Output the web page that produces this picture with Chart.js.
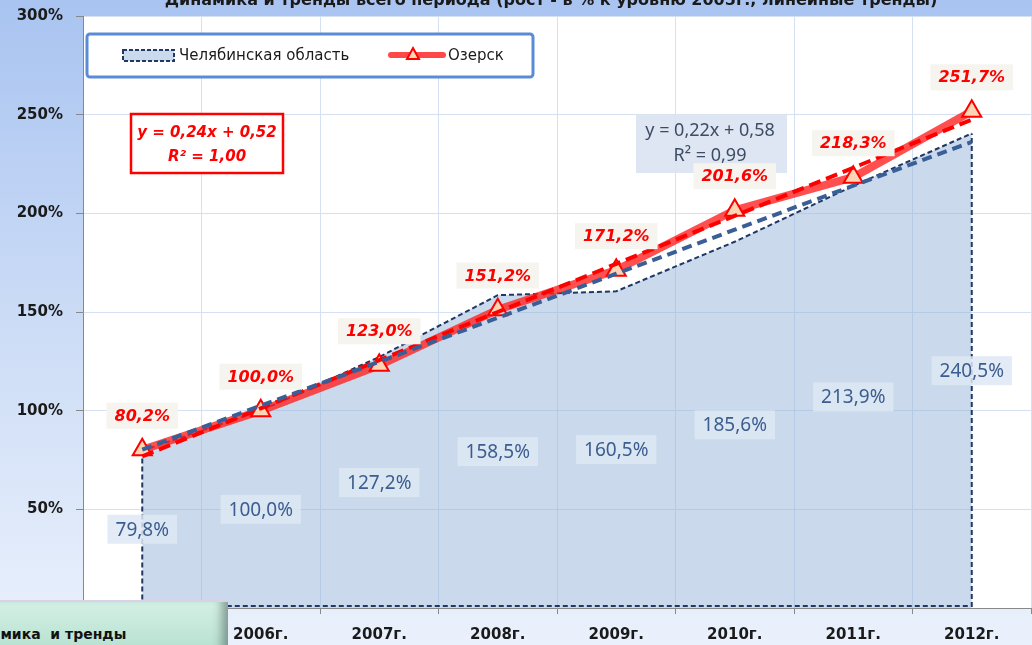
<!DOCTYPE html>
<html>
<head>
<meta charset='utf-8' />
<title>Динамика и тренды</title>
<script src="https://cdn.jsdelivr.net/npm/chart.js"></script>
<style>
body { margin:0; padding:0; overflow:hidden; }
#wrap { position: relative; width: 1032px; height: 645px; }
#chart { display: block; }
#btn {
  position: absolute;
  left: 0; top: 600px;
  width: 228px; height: 50px;
  overflow: hidden;
  background: linear-gradient(#d3f0e4, #b6e0cf);
  border-top: 2px solid #d9d0ea;
  box-shadow: inset -12px 0 10px -6px rgba(70,90,85,0.55);
  font: bold 14px 'DejaVu Sans';
  color: #111;
  white-space: nowrap;
}
#btn .txt { position: absolute; top: 24px; left: 0; }
</style>
</head>
<body>
<div id="wrap">
  <canvas id="chart" width="1032" height="645"></canvas>
  <div id="btn"><span class="txt"><span id="cut">Дина</span>мика&nbsp; и тренды</span></div>
</div>

<script>

/*************************************************/
/* данные                                        */
/*************************************************/

const years = ['2005г.', '2006г.', '2007г.', '2008г.', '2009г.', '2010г.', '2011г.', '2012г.'];

// Челябинская область, % к 2005г.
const chelyab = [79.8, 100.0, 127.2, 158.5, 160.5, 185.6, 213.9, 240.5];
// Озерск, % к 2005г.
const ozersk = [80.2, 100.0, 123.0, 151.2, 171.2, 201.6, 218.3, 251.7];

// линейные тренды (как на картинке)
const chelyabTrend = [80.3, 102.5, 124.8, 147.1, 169.4, 191.7, 214.0, 236.2];
const ozerskTrend = [76.8, 101.2, 125.6, 150.0, 174.4, 198.7, 223.1, 247.5];

const eqOzersk = ['y = 0,24x + 0,52', 'R² = 1,00'];
const eqChelyab = ['y = 0,22x + 0,58', 'R² = 0,99'];

const titleText = 'Динамика и тренды всего периода (рост - в % к уровню 2005г., линейные тренды)';
const seriesNames = ['Челябинская область', 'Озерск'];

const fmt = v => v.toFixed(1).replace('.', ',') + '%';

// кнопка внизу: обрезаем начало слова
document.querySelector('#btn .txt').style.left = (-document.getElementById('cut').offsetWidth) + 'px';

/*************************************************/
/* плагины                                       */
/*************************************************/

const bgPlugin = {
  id: 'bg',
  beforeDraw(chart) {
    const ctx = chart.ctx;
    const a = chart.chartArea;
    const g = ctx.createLinearGradient(0, 0, 0, chart.height);
    g.addColorStop(0, '#a9c4f1');
    g.addColorStop(0.5, '#ccdcf6');
    g.addColorStop(1, '#eaf1fc');
    ctx.save();
    ctx.fillStyle = g;
    ctx.fillRect(0, 0, chart.width, chart.height);
    ctx.fillStyle = '#ffffff';
    ctx.fillRect(a.left, a.top, a.right - a.left, a.bottom - a.top);
    // заголовок (обрезан сверху)
    ctx.fillStyle = '#1a1a1a';
    ctx.font = 'bold 16px "DejaVu Sans"';
    ctx.textAlign = 'center';
    ctx.textBaseline = 'alphabetic';
    ctx.fillText(titleText, 551, 5);
    ctx.restore();
  }
};

// пунктирные края области
const areaEdgePlugin = {
  id: 'areaEdge',
  afterDatasetDraw(chart, args) {
    if (args.index !== 0) return;
    const pts = args.meta.data;
    const bottom = chart.scales.y.getPixelForValue(0) - 2;
    const first = pts[0], last = pts[pts.length - 1];
    const ctx = chart.ctx;
    ctx.save();
    ctx.strokeStyle = '#1f3864';
    ctx.lineWidth = 2;
    ctx.setLineDash([5, 3]);
    ctx.beginPath();
    ctx.moveTo(first.x, first.y);
    ctx.lineTo(first.x, bottom);
    ctx.lineTo(last.x, bottom);
    ctx.lineTo(last.x, last.y);
    ctx.stroke();
    ctx.restore();
  }
};

const labelBox = (ctx, text, x, y, font, color, bg, padX, h) => {
  ctx.font = font;
  const w = ctx.measureText(text).width + padX * 2;
  ctx.fillStyle = bg;
  ctx.fillRect(x - w / 2, y - h / 2, w, h);
  ctx.fillStyle = color;
  ctx.textAlign = 'center';
  ctx.textBaseline = 'middle';
  ctx.fillText(text, x, y + 1);
};

const annotPlugin = {
  id: 'annot',
  afterDatasetsDraw(chart) {
    const ctx = chart.ctx;
    const ys = chart.scales.y;
    ctx.save();

    // уравнения трендов
    ctx.fillStyle = '#ffffff';
    ctx.fillRect(131, 114, 152, 59);
    ctx.strokeStyle = '#ff0000';
    ctx.lineWidth = 2.5;
    ctx.strokeRect(131, 114, 152, 59);
    ctx.fillStyle = '#ff0000';
    ctx.font = 'italic bold 15px "DejaVu Sans"';
    ctx.textAlign = 'center';
    ctx.textBaseline = 'middle';
    ctx.fillText(eqOzersk[0], 207, 133);
    ctx.fillText(eqOzersk[1], 207, 157);

    ctx.fillStyle = 'rgba(218,228,241,0.92)';
    ctx.fillRect(636, 114, 151, 59);
    ctx.fillStyle = '#3e4c63';
    ctx.font = '18px "Noto Sans"';
    ctx.fillText(eqChelyab[0], 710, 131);
    ctx.fillText(eqChelyab[1], 710, 156);

    // подписи Челябинской области (в середине области)
    chart.getDatasetMeta(0).data.forEach((p, i) => {
      const y = ys.getPixelForValue(chelyab[i] / 2);
      labelBox(ctx, fmt(chelyab[i]), p.x, y, '19px "Noto Sans"', '#3b5d8f', 'rgba(222,231,244,0.85)', 8, 29);
    });

    // подписи Озерска
    chart.getDatasetMeta(1).data.forEach((p, i) => {
      labelBox(ctx, fmt(ozersk[i]), p.x, p.y - 34, 'italic bold 16px "DejaVu Sans"', '#ff0000', '#f6f4ee', 8, 26);
    });

    // легенда
    ctx.fillStyle = '#ffffff';
    ctx.strokeStyle = '#5a8bd6';
    ctx.lineWidth = 3;
    ctx.beginPath();
    ctx.roundRect(87, 34, 446, 43, 3);
    ctx.fill();
    ctx.stroke();

    ctx.fillStyle = 'rgba(149,179,215,0.5)';
    ctx.fillRect(123, 50, 51, 11);
    ctx.strokeStyle = '#1f3864';
    ctx.lineWidth = 2;
    ctx.setLineDash([4, 2]);
    ctx.strokeRect(123, 50, 51, 11);
    ctx.setLineDash([]);

    ctx.fillStyle = '#1a1a1a';
    ctx.font = '15px "DejaVu Sans"';
    ctx.textAlign = 'left';
    ctx.textBaseline = 'middle';
    ctx.fillText(seriesNames[0], 179, 56);

    ctx.strokeStyle = 'rgba(255,40,40,0.85)';
    ctx.lineWidth = 6;
    ctx.lineCap = 'round';
    ctx.beginPath();
    ctx.moveTo(391, 55);
    ctx.lineTo(443, 55);
    ctx.stroke();
    ctx.lineCap = 'butt';
    ctx.fillStyle = '#fcd5b4';
    ctx.strokeStyle = '#ff0000';
    ctx.lineWidth = 2;
    ctx.beginPath();
    ctx.moveTo(413, 48);
    ctx.lineTo(419, 59);
    ctx.lineTo(407, 59);
    ctx.closePath();
    ctx.fill();
    ctx.stroke();

    ctx.fillStyle = '#1a1a1a';
    ctx.fillText(seriesNames[1], 448, 56);

    ctx.restore();
  }
};

/*************************************************/
/* график                                        */
/*************************************************/

const ctx = document.getElementById('chart');

const chart = new Chart(ctx, {
  type: 'line',
  data: {
    labels: years,
    datasets: [{
      label: seriesNames[0],
      data: chelyab,
      fill: 'origin',
      backgroundColor: 'rgba(149,179,215,0.5)',
      borderColor: '#1f3864',
      borderWidth: 2,
      borderDash: [5, 3],
      pointRadius: 0,
      order: 4
    }, {
      label: seriesNames[1],
      data: ozersk,
      fill: false,
      borderColor: 'rgba(255,35,35,0.8)',
      borderWidth: 8,
      pointStyle: 'triangle',
      pointRadius: 11,
      pointBackgroundColor: '#fcd5b4',
      pointBorderColor: '#ff0000',
      pointBorderWidth: 2,
      order: 3
    }, {
      label: 'тренд Озерск',
      data: ozerskTrend,
      fill: false,
      borderColor: '#ff0000',
      borderWidth: 4,
      borderDash: [12, 6],
      pointRadius: 0,
      order: 2
    }, {
      label: 'тренд Челябинская область',
      data: chelyabTrend,
      fill: false,
      borderColor: '#3a5e96',
      borderWidth: 4,
      borderDash: [10, 6],
      pointRadius: 0,
      order: 1
    }]
  },
  options: {
    responsive: false,
    animation: false,
    layout: {
      autoPadding: false,
      padding: { top: 16, right: 1, left: 0, bottom: 0 }
    },
    plugins: {
      legend: { display: false },
      tooltip: { enabled: false }
    },
    scales: {
      x: {
        offset: true,
        grid: {
          offset: true,
          color: '#d5e1f3',
          tickColor: '#888888',
          tickLength: 6
        },
        border: { color: '#888888' },
        ticks: {
          color: '#1a1a1a',
          font: { family: 'DejaVu Sans', size: 15, weight: 'bold' },
          padding: 12,
          maxRotation: 0
        },
        afterFit: s => {
          s.height = 37;
          s.paddingLeft = 0;
          s.paddingRight = 0;
        }
      },
      y: {
        min: 0,
        max: 300,
        ticks: {
          stepSize: 50,
          color: '#1a1a1a',
          font: { family: 'DejaVu Sans', size: 15, weight: 'bold' },
          padding: 13,
          callback: v => v === 0 ? '' : v + '%'
        },
        grid: {
          color: '#d5e1f3',
          tickColor: '#888888',
          tickLength: 7
        },
        border: { color: '#888888' },
        afterFit: s => {
          s.width = 83;
          s.paddingTop = 0;
          s.paddingBottom = 0;
        }
      }
    }
  },
  plugins: [bgPlugin, areaEdgePlugin, annotPlugin]
});

</script>
</body>
</html>
